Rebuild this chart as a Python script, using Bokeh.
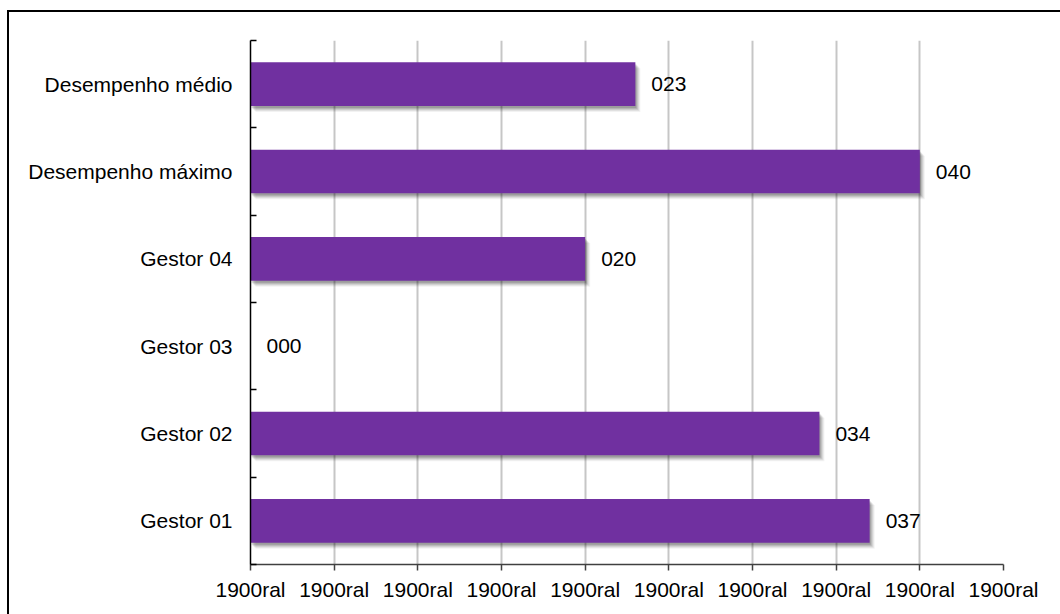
from bokeh.plotting import figure
from bokeh.layouts import column, row
from bokeh.models import FixedTicker, ColumnDataSource, Range1d, Spacer
from bokeh.core.properties import value
from bokeh.embed import file_html
from bokeh.resources import INLINE

# Categories listed from bottom to top, with their scores
categories = ["Gestor 01", "Gestor 02", "Gestor 03", "Gestor 04",
              "Desempenho máximo", "Desempenho médio"]
scores = [37, 34, 0, 20, 40, 23]

# Value-axis ticks and their (literal) labels
x_ticks = [0, 5, 10, 15, 20, 25, 30, 35, 40, 45]
x_tick_labels = ["1900ral"] * len(x_ticks)

BAR_COLOR = "#7030A0"
FONT = "Liberation Sans"
FONT_SIZE = "21px"
BAR_H = 0.5

# chart box position on the page and its border width
BX, BY, BW = 7, 10, 2
PAGE_W, PAGE_H = 1060, 614
OX, OY = BX + BW, BY + BW
W, H = PAGE_W - OX, PAGE_H - OY
LEFT, TOP = 250 - OX, 40 - OY
RIGHT, BOTTOM = PAGE_W - 1003, PAGE_H - 564

centers = [i + 0.5 for i in range(len(categories))]
labels = [f"{v:03d}" for v in scores]

p = figure(width=W, height=H, output_backend="svg", toolbar_location=None,
           x_range=Range1d(0, 45), y_range=Range1d(0, len(categories)),
           min_border_left=LEFT, min_border_right=RIGHT,
           min_border_top=TOP, min_border_bottom=BOTTOM,
           background_fill_color="white", border_fill_color="white")
p.outline_line_color = None

# pixel -> data conversions for the soft drop shadow
frame_w = 1003 - 250
frame_h = 564 - 40
px_x = 45 / frame_w
px_y = len(categories) / frame_h

# soft shadow: stacked translucent copies shifted down-right
for dx, dy, a in [(5, 6, 0.05), (4, 5, 0.07), (3, 4, 0.09), (2, 3, 0.11), (1, 2, 0.13)]:
    src = ColumnDataSource(dict(
        left=[dx * px_x if v > 0 else 0 for v in scores],
        right=[v + dx * px_x if v > 0 else 0 for v in scores],
        top=[c + BAR_H / 2 - dy * px_y for c in centers],
        bottom=[c - BAR_H / 2 - dy * px_y for c in centers],
    ))
    p.quad(left="left", right="right", top="top", bottom="bottom", source=src,
           fill_color="black", fill_alpha=a, line_color=None)

bars = ColumnDataSource(dict(y=centers, x=scores, label=labels))
p.hbar(y="y", right="x", left=0, height=BAR_H, source=bars,
       fill_color=BAR_COLOR, line_color=None)

p.text(x="x", y="y", text="label", source=bars, x_offset=16,
       text_baseline="middle", text_align="left",
       text_font=value(FONT), text_font_size=FONT_SIZE, text_color="black")

# x axis
p.xaxis.ticker = FixedTicker(ticks=x_ticks)
p.xaxis.major_label_overrides = {t: s for t, s in zip(x_ticks, x_tick_labels)}
p.xaxis.major_tick_in = 0
p.xaxis.major_tick_out = 6
p.xaxis.minor_tick_line_color = None
p.xaxis.axis_line_color = "#404040"
p.xaxis.axis_line_width = 1.5
p.xaxis.major_tick_line_color = "#404040"
p.xaxis.major_tick_line_width = 1.5
p.xaxis.major_label_standoff = 7
p.xaxis.major_label_text_font = FONT
p.xaxis.major_label_text_font_size = FONT_SIZE
p.xaxis.major_label_text_color = "black"

# y axis: labels at category centres, ticks at category boundaries
p.yaxis.ticker = FixedTicker(ticks=centers,
                             minor_ticks=list(range(len(categories) + 1)))
p.yaxis.major_label_overrides = {c: s for c, s in zip(centers, categories)}
p.yaxis.major_tick_in = 0
p.yaxis.major_tick_out = 0
p.yaxis.minor_tick_in = 6
p.yaxis.minor_tick_out = 0
p.yaxis.minor_tick_line_color = "black"
p.yaxis.minor_tick_line_width = 1.5
p.yaxis.axis_line_color = "black"
p.yaxis.axis_line_width = 1.5
p.yaxis.major_label_standoff = 18
p.yaxis.major_label_text_font = FONT
p.yaxis.major_label_text_font_size = FONT_SIZE
p.yaxis.major_label_text_color = "black"

p.xgrid.grid_line_color = "#c6c6c6"
p.xgrid.grid_line_width = 2
p.ygrid.grid_line_color = None

# chart border: top and left edges built from black strips
top_edge = Spacer(width=PAGE_W - BX, height=BW, styles={"background-color": "black"})
left_edge = Spacer(width=BW, height=H, styles={"background-color": "black"})
boxed = column(top_edge, row(left_edge, p, spacing=0), spacing=0)

page = column(Spacer(width=PAGE_W, height=BY),
              row(Spacer(width=BX, height=H + BW), boxed, spacing=0),
              spacing=0)

open("out.html", "w").write(file_html(page, INLINE))
